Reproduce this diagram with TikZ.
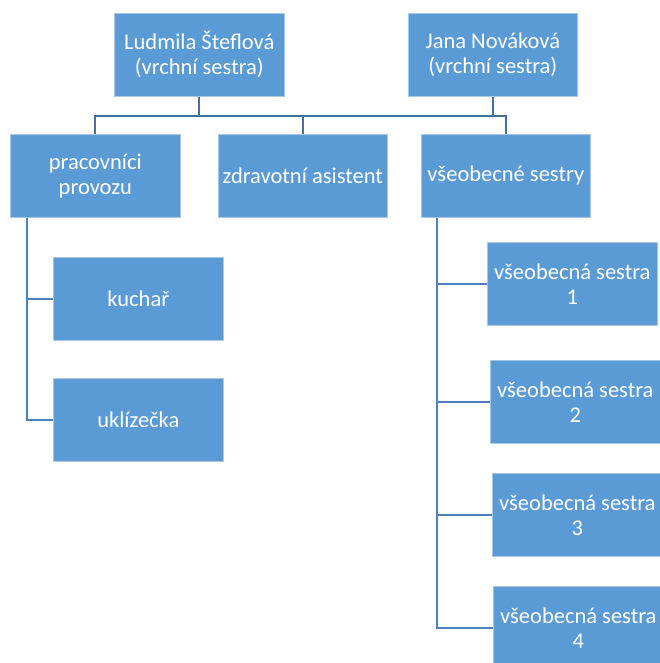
\documentclass[tikz,border=0pt]{standalone}
\usepackage{fontspec}
\setmainfont{Carlito}
\definecolor{boxblue}{HTML}{5B9BD5}
\definecolor{boxedge}{HTML}{A9C8E8}
\definecolor{linetop}{HTML}{41719C}
\definecolor{linelow}{HTML}{4A80BE}
\tikzset{
  orgbox/.style={rectangle, anchor=north west, fill=boxblue, draw=boxedge, line width=0.6pt,
    minimum width=170pt, minimum height=83pt, inner sep=2pt, align=center, text=white,
    font=\fontsize{22.5}{25}\selectfont},
  topline/.style={draw=linetop, line width=2.2pt},
  lowline/.style={draw=linelow, line width=2.2pt}
}
\begin{document}
\begin{tikzpicture}[x=1pt,y=-1pt]
\useasboundingbox (0,0) rectangle (659,663);
\coordinate (bus) at (0,116);
\coordinate (lx) at (27,0);
\coordinate (rx) at (437,0);
\node[orgbox] (lud) at (114,13) {Ludmila Šteflová\\(vrchní sestra)};
\node[orgbox, minimum width=169pt] (jana) at (408,13) {Jana Nováková\\(vrchní sestra)};
\node[orgbox] (prac) at (10,134) {pracovníci\\provozu};
\node[orgbox, minimum width=169pt, inner sep=0pt] (zdr) at (218,134) {zdravotní asistent};
\node[orgbox, minimum width=169pt] (vseo) at (421,134) {všeobecné sestry};
\node[orgbox] (kuch) at (53,257) {kuchař};
\node[orgbox] (ukl) at (53,378) {uklízečka};
\node[orgbox] (s1) at (487,242) {všeobecná sestra\\1};
\node[orgbox] (s2) at (490,360) {všeobecná sestra\\2};
\node[orgbox] (s3) at (492,473) {všeobecná sestra\\3};
\node[orgbox] (s4) at (493,586) {všeobecná sestra\\4};
% top connectors
\draw[topline] (lud.south) -- (lud.south |- bus);
\draw[topline] (jana.south) -- (jana.south |- bus);
\draw[topline] (prac.north) -- (prac.north |- bus) -- (vseo.north |- bus) -- (vseo.north);
\draw[topline] (zdr.north) -- (zdr.north |- bus);
% left branch
\draw[lowline] (prac.south -| lx) -- (ukl.west -| lx) -- (ukl.west);
\draw[lowline] (kuch.west -| lx) -- (kuch.west);
% right branch
\draw[lowline] (vseo.south -| rx) -- (s4.west -| rx) -- (s4.west);
\draw[lowline] (s1.west -| rx) -- (s1.west);
\draw[lowline] (s2.west -| rx) -- (s2.west);
\draw[lowline] (s3.west -| rx) -- (s3.west);
\end{tikzpicture}
\end{document}
